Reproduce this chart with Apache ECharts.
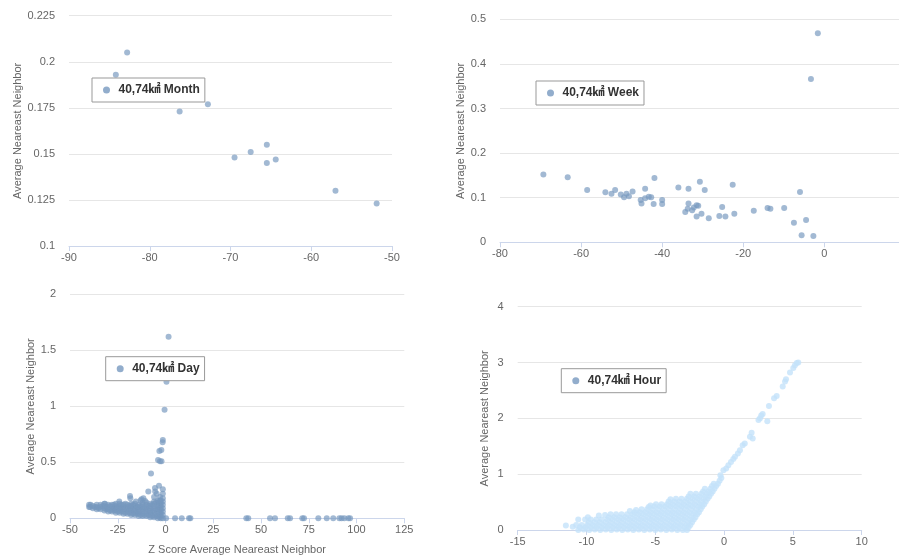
<!DOCTYPE html>
<html>
<head>
<meta charset="utf-8">
<script src="https://cdn.jsdelivr.net/npm/echarts@6/dist/echarts.min.js"></script>
<style>
  html, body { margin: 0; padding: 0; background: #fff; overflow: hidden; }
  #chart { width: 899px; height: 556px; }
</style>
</head>
<body>
<div id="chart"></div>
<script>
// Series names (area 40,74 km² aggregated by time window)
const monthName = '40,74㎢ Month';
const weekName = '40,74㎢ Week';
const dayName = '40,74㎢ Day';
const hourName = '40,74㎢ Hour';

// [z score, average nearest neighbor]
const monthPoints = [
  [-84.2, 0.193], [-82.8, 0.205], [-76.3, 0.173], [-72.8, 0.177], [-69.5, 0.148],
  [-67.5, 0.151], [-65.5, 0.155], [-65.5, 0.145], [-64.4, 0.147], [-57.0, 0.130],
  [-51.9, 0.123]
];

const weekPoints = [
  [-69.3, 0.152], [-63.3, 0.146], [-58.5, 0.117], [-54.0, 0.112], [-52.5, 0.109],
  [-51.6, 0.117], [-50.2, 0.107], [-49.4, 0.101], [-48.8, 0.109], [-48.2, 0.103],
  [-47.3, 0.114], [-45.3, 0.095], [-45.1, 0.087], [-44.2, 0.120], [-44.2, 0.099],
  [-43.3, 0.102], [-42.7, 0.101], [-42.1, 0.086], [-41.9, 0.144], [-40.0, 0.095],
  [-40.0, 0.086], [-36.0, 0.123], [-34.3, 0.068], [-33.7, 0.075], [-33.5, 0.120],
  [-33.5, 0.087], [-32.6, 0.072], [-32.2, 0.078], [-31.5, 0.058], [-31.5, 0.083],
  [-31.1, 0.082], [-30.7, 0.136], [-30.3, 0.064], [-29.5, 0.117], [-28.5, 0.054],
  [-25.9, 0.059], [-25.2, 0.079], [-24.4, 0.058], [-22.6, 0.129], [-22.2, 0.064],
  [-17.4, 0.071], [-14.0, 0.077], [-13.3, 0.075], [-9.9, 0.077], [-7.5, 0.044],
  [-6.0, 0.113], [-5.6, 0.016], [-4.5, 0.050], [-3.3, 0.366], [-2.7, 0.014],
  [-1.6, 0.469]
];

const dayPoints = [
  // dense band below zero
  [-40, 0.10], [-39.5, 0.10], [-40, 0.12], [-38, 0.09], [-38, 0.11], [-37, 0.10],
  [-36, 0.08], [-36, 0.10], [-36, 0.12], [-35, 0.09], [-34, 0.08], [-34, 0.10], [-34, 0.12],
  [-33, 0.11], [-32, 0.07], [-32, 0.09], [-32, 0.11], [-32, 0.13], [-31, 0.08], [-31, 0.10],
  [-30, 0.06], [-30, 0.08], [-30, 0.10], [-30, 0.12], [-29, 0.07], [-29, 0.11],
  [-28, 0.06], [-28, 0.08], [-28, 0.10], [-28, 0.12], [-27, 0.07], [-27, 0.09], [-27, 0.12],
  [-26, 0.05], [-26, 0.07], [-26, 0.09], [-26, 0.11], [-26, 0.13], [-25, 0.06], [-25, 0.10],
  [-24, 0.05], [-24, 0.07], [-24, 0.09], [-24, 0.11], [-24, 0.13], [-23, 0.06], [-23, 0.08], [-23, 0.12],
  [-22, 0.04], [-22, 0.06], [-22, 0.08], [-22, 0.10], [-22, 0.12], [-21, 0.05], [-21, 0.09], [-21, 0.13],
  [-20, 0.04], [-20, 0.06], [-20, 0.08], [-20, 0.10], [-20, 0.12], [-19, 0.05], [-19, 0.07], [-19, 0.11],
  [-18, 0.03], [-18, 0.05], [-18, 0.07], [-18, 0.09], [-18, 0.11], [-18, 0.13], [-17, 0.04], [-17, 0.08], [-17, 0.12],
  [-16, 0.03], [-16, 0.05], [-16, 0.07], [-16, 0.09], [-16, 0.11], [-16, 0.13], [-15, 0.04], [-15, 0.06], [-15, 0.10],
  [-14, 0.02], [-14, 0.04], [-14, 0.06], [-14, 0.08], [-14, 0.10], [-14, 0.12], [-13, 0.03], [-13, 0.07], [-13, 0.11],
  [-12, 0.02], [-12, 0.04], [-12, 0.06], [-12, 0.08], [-12, 0.10], [-12, 0.12], [-12, 0.14], [-11, 0.03], [-11, 0.09],
  [-10, 0.02], [-10, 0.04], [-10, 0.06], [-10, 0.08], [-10, 0.10], [-10, 0.12], [-10, 0.14], [-9, 0.03], [-9, 0.07], [-9, 0.11],
  [-8, 0.01], [-8, 0.03], [-8, 0.05], [-8, 0.07], [-8, 0.09], [-8, 0.11], [-8, 0.13], [-7, 0.02], [-7, 0.06], [-7, 0.12],
  [-6, 0.01], [-6, 0.03], [-6, 0.05], [-6, 0.07], [-6, 0.09], [-6, 0.11], [-6, 0.13], [-6, 0.15], [-5, 0.02], [-5, 0.08], [-5, 0.14],
  [-4, 0.0], [-4, 0.02], [-4, 0.04], [-4, 0.06], [-4, 0.08], [-4, 0.10], [-4, 0.12], [-4, 0.14], [-4, 0.16],
  [-3, 0.01], [-3, 0.05], [-3, 0.09], [-3, 0.13],
  [-2.5, 0.0], [-2.5, 0.02], [-2.5, 0.04], [-2.5, 0.06], [-2.5, 0.08], [-2.5, 0.10], [-2.5, 0.12], [-2.5, 0.14], [-2.5, 0.16],
  [-1.4, 0.0], [-1.4, 0.03], [-1.4, 0.06], [-1.4, 0.09], [-1.4, 0.12], [-1.4, 0.15], [-1.4, 0.18], [-1.4, 0.22], [-1.4, 0.26],
  // sparser points above the band
  [-39.2, 0.12], [-31.7, 0.13], [-24.2, 0.15], [-18.6, 0.20], [-18.4, 0.18], [-15.5, 0.15],
  [-13.0, 0.16], [-12.6, 0.17], [-11.6, 0.18], [-10.7, 0.155], [-9.0, 0.24], [-7.6, 0.40],
  [-6.0, 0.19], [-5.5, 0.27], [-5.4, 0.24], [-4.6, 0.22], [-3.4, 0.29], [-2.9, 0.19], [-2.9, 0.16],
  // spike near zero
  [1.6, 1.62], [0.5, 1.22], [-0.5, 0.97], [-1.4, 0.70], [-1.5, 0.68], [-2.2, 0.61], [-3.2, 0.60],
  [-3.9, 0.52], [-2.9, 0.51], [-2.1, 0.51],
  // positive z scores
  [0.3, 0], [5.0, 0], [8.5, 0], [12.3, 0], [13.0, 0], [42.3, 0], [43.3, 0], [54.7, 0], [57.3, 0],
  [64.0, 0], [65.2, 0], [71.6, 0], [72.5, 0], [80.0, 0], [84.4, 0], [87.8, 0], [91.0, 0],
  [92.2, 0], [93.6, 0], [95.7, 0], [96.6, 0]
];

const hourPoints = [
  [-2.7, 0], [-2.45, 0.09], [-2.2, 0.19], [-1.95, 0.28], [-1.7, 0.37], [-1.45, 0.46], [-1.2, 0.56], [-0.95, 0.65], [-0.7, 0.74], [-0.45, 0.83], [-0.2, 0.93],
  [-2.58, 0.05], [-2.33, 0.14], [-2.08, 0.23], [-1.83, 0.32], [-1.58, 0.42], [-1.33, 0.51], [-1.08, 0.60], [-0.83, 0.69], [-0.58, 0.79], [-0.33, 0.88],
  [-3.0, 0], [-2.75, 0.09], [-2.5, 0.19], [-2.25, 0.28], [-2.0, 0.37], [-1.75, 0.46], [-1.5, 0.56], [-1.25, 0.65], [-1.0, 0.74], [-0.75, 0.83],
  [-2.88, 0.05], [-2.63, 0.14], [-2.38, 0.23], [-2.13, 0.32], [-1.88, 0.42], [-1.63, 0.51], [-1.38, 0.60], [-1.13, 0.69], [-0.88, 0.79],
  [-3.4, 0], [-3.15, 0.09], [-2.9, 0.19], [-2.65, 0.28], [-2.4, 0.37], [-2.15, 0.46], [-1.9, 0.56], [-1.65, 0.65], [-1.4, 0.74],
  [-3.28, 0.05], [-3.03, 0.14], [-2.78, 0.23], [-2.53, 0.32], [-2.28, 0.42], [-2.03, 0.51], [-1.78, 0.60], [-1.53, 0.69],
  [-3.8, 0.01], [-3.55, 0.09], [-3.3, 0.19], [-3.05, 0.28], [-2.8, 0.37], [-2.55, 0.46], [-2.3, 0.56], [-2.05, 0.65],
  [-3.68, 0.05], [-3.43, 0.14], [-3.18, 0.23], [-2.93, 0.32], [-2.68, 0.42], [-2.43, 0.51], [-2.18, 0.60],
  [-4.2, 0], [-3.95, 0.09], [-3.7, 0.19], [-3.45, 0.28], [-3.2, 0.37], [-2.95, 0.46], [-2.7, 0.56], [-2.45, 0.65],
  [-4.08, 0.05], [-3.83, 0.14], [-3.58, 0.23], [-3.33, 0.32], [-3.08, 0.42], [-2.83, 0.51], [-2.58, 0.60],
  [-4.6, 0.01], [-4.35, 0.09], [-4.1, 0.19], [-3.85, 0.28], [-3.6, 0.37], [-3.35, 0.46], [-3.1, 0.56],
  [-4.48, 0.05], [-4.23, 0.14], [-3.98, 0.23], [-3.73, 0.32], [-3.48, 0.42], [-3.23, 0.51],
  [-5.0, 0], [-4.75, 0.09], [-4.5, 0.19], [-4.25, 0.28], [-4.0, 0.37], [-3.75, 0.46], [-3.5, 0.56],
  [-4.88, 0.05], [-4.63, 0.14], [-4.38, 0.23], [-4.13, 0.32], [-3.88, 0.42], [-3.63, 0.51],
  [-5.4, 0.01], [-5.15, 0.09], [-4.9, 0.19], [-4.65, 0.28], [-4.4, 0.37], [-4.15, 0.46], [-3.9, 0.55],
  [-5.28, 0.05], [-5.03, 0.14], [-4.78, 0.23], [-4.53, 0.32], [-4.28, 0.42], [-4.03, 0.51],
  [-5.8, 0], [-5.55, 0.09], [-5.3, 0.19], [-5.05, 0.28], [-4.8, 0.37], [-4.55, 0.46],
  [-5.68, 0.05], [-5.43, 0.14], [-5.18, 0.23], [-4.93, 0.32], [-4.68, 0.42],
  [-6.2, 0.01], [-5.95, 0.09], [-5.7, 0.19], [-5.45, 0.28], [-5.2, 0.37], [-4.95, 0.46],
  [-6.08, 0.05], [-5.83, 0.14], [-5.58, 0.23], [-5.33, 0.32], [-5.08, 0.42],
  [-6.6, 0], [-6.35, 0.09], [-6.1, 0.19], [-5.85, 0.28], [-5.6, 0.37], [-5.35, 0.44],
  [-6.48, 0.05], [-6.23, 0.14], [-5.98, 0.23], [-5.73, 0.32], [-5.48, 0.41],
  [-7.0, 0.01], [-6.75, 0.09], [-6.5, 0.19], [-6.25, 0.28], [-6.0, 0.37],
  [-6.88, 0.05], [-6.63, 0.14], [-6.38, 0.23], [-6.13, 0.32],
  [-7.4, 0], [-7.15, 0.09], [-6.9, 0.19], [-6.65, 0.28], [-6.4, 0.36],
  [-7.28, 0.05], [-7.03, 0.14], [-6.78, 0.23], [-6.53, 0.32],
  [-7.8, 0.01], [-7.55, 0.09], [-7.3, 0.19], [-7.05, 0.28], [-6.85, 0.34],
  [-7.68, 0.05], [-7.43, 0.14], [-7.18, 0.23],
  [-8.2, 0], [-7.95, 0.09], [-7.7, 0.19], [-7.45, 0.28],
  [-8.08, 0.05], [-7.83, 0.14], [-7.58, 0.23],
  [-8.6, 0.01], [-8.35, 0.09], [-8.1, 0.19], [-7.85, 0.28],
  [-8.48, 0.05], [-8.23, 0.14], [-7.98, 0.23],
  [-9.0, 0], [-8.75, 0.09], [-8.5, 0.19], [-8.25, 0.28],
  [-8.88, 0.05], [-8.63, 0.14], [-8.38, 0.23],
  [-9.4, 0.01], [-9.15, 0.09], [-8.9, 0.19], [-8.65, 0.27],
  [-9.28, 0.05], [-9.03, 0.14],
  [-9.8, 0], [-9.55, 0.09], [-9.3, 0.19], [-9.1, 0.26],
  [-9.68, 0.05], [-9.43, 0.14],
  [-10.2, 0.01], [-9.95, 0.09], [-9.7, 0.19], [-9.9, 0.23],
  [-10.08, 0.05], [-9.83, 0.14],
  [-10.6, 0], [-10.35, 0.09], [-10.1, 0.19], [-10.48, 0.05],
  [-11.0, 0.06], [-10.75, 0.09], [-10.6, 0.19],
  [-11.5, 0.08],
  // upper branch
  [-0.27, 0.98], [-0.05, 1.07], [0.15, 1.10], [0.31, 1.16], [0.5, 1.22], [0.67, 1.27], [0.79, 1.31],
  [1.0, 1.37], [1.15, 1.43], [1.35, 1.52], [1.5, 1.55], [1.88, 1.67], [2.0, 1.74], [2.08, 1.64],
  [2.5, 1.97], [2.61, 2.0], [2.7, 2.05], [2.8, 2.08], [3.14, 1.95], [3.26, 2.22], [3.63, 2.36],
  [3.82, 2.40], [4.26, 2.57], [4.43, 2.66], [4.5, 2.70], [4.79, 2.82], [5.03, 2.90], [5.15, 2.95],
  [5.28, 2.99], [5.39, 3.0]
];

const FONT = 'Arial, "Liberation Sans", "Noto Sans CJK SC", sans-serif';
const dotColor = 'rgba(119,152,191,0.85)';
const hourColor = 'rgb(196,226,250)';
const legendIconColor = 'rgb(119,152,191)';
const yTitle = 'Average Neareast Neighbor';
const xTitle = 'Z Score Average Neareast Neighbor';

// Panel layout: grid box, axis ranges, y-axis title gap, legend position
const panels = [
  { name: monthName, data: monthPoints, color: dotColor,
    grid: { left: 69, top: 15.7, width: 323, height: 230.3 },
    x: [-90, -50, 10], y: [0.1, 0.225, 0.025],
    yGap: 46, xName: '',
    legend: { left: 92, top: 78 } },
  { name: weekName, data: weekPoints, color: dotColor,
    // runs slightly past the right edge of the canvas
    grid: { left: 500, top: 19.3, width: 405.4, height: 223 },
    x: [-80, 20, 20], y: [0, 0.5, 0.1],
    yGap: 34, xName: '',
    legend: { left: 536, top: 81 } },
  { name: dayName, data: dayPoints, color: dotColor,
    grid: { left: 70, top: 294.3, width: 334.3, height: 224 },
    x: [-50, 125, 25], y: [0, 2, 0.5],
    yGap: 33, xName: xTitle,
    legend: { left: 105.7, top: 356.7 } },
  { name: hourName, data: hourPoints, color: hourColor,
    grid: { left: 517.7, top: 306.7, width: 344, height: 223.3 },
    x: [-15, 10, 5], y: [0, 4, 1],
    yGap: 27, xName: '',
    legend: { left: 561.3, top: 368.7 } }
];

const option = {
  animation: false,
  textStyle: { fontFamily: FONT },
  grid: panels.map(p => Object.assign({ containLabel: false, outerBoundsMode: 'none' }, p.grid)),
  xAxis: panels.map((p, i) => ({
    type: 'value', gridIndex: i,
    min: p.x[0], max: p.x[1], interval: p.x[2],
    name: p.xName, nameLocation: 'middle', nameGap: 26,
    nameTextStyle: { color: '#666', fontSize: 11, fontFamily: FONT },
    axisLine: { show: true, onZero: false, lineStyle: { color: '#ccd6eb', width: 1 } },
    axisTick: { show: true, length: 5, lineStyle: { color: '#ccd6eb' } },
    splitLine: { show: false },
    axisLabel: { color: '#666', fontSize: 11, margin: 6, fontFamily: FONT }
  })),
  yAxis: panels.map((p, i) => ({
    type: 'value', gridIndex: i,
    min: p.y[0], max: p.y[1], interval: p.y[2],
    name: yTitle, nameLocation: 'middle', nameGap: p.yGap,
    nameTextStyle: { color: '#666', fontSize: 11, fontFamily: FONT },
    axisLine: { show: false }, axisTick: { show: false },
    splitLine: { show: true, lineStyle: { color: '#e6e6e6', width: 1 } },
    axisLabel: { color: '#666', fontSize: 11, margin: 14, fontFamily: FONT }
  })),
  legend: panels.map(p => ({
    left: p.legend.left, top: p.legend.top,
    orient: 'horizontal',
    padding: [6, 5, 6, 11],
    itemWidth: 14, itemHeight: 7, icon: 'circle',
    borderColor: '#999', borderWidth: 1, borderRadius: 0,
    backgroundColor: '#fff',
    selectedMode: false,
    textStyle: { fontSize: 12, fontWeight: 'bold', color: '#333', fontFamily: FONT },
    data: [{ name: p.name, itemStyle: { color: legendIconColor } }]
  })),
  series: panels.map((p, i) => ({
    type: 'scatter', name: p.name,
    xAxisIndex: i, yAxisIndex: i,
    symbol: 'circle', symbolSize: 6,
    itemStyle: { color: p.color },
    emphasis: { disabled: true },
    data: p.data
  }))
};

const chart = echarts.init(document.getElementById('chart'), null, { renderer: 'canvas' });
chart.setOption(option);
</script>
</body>
</html>
